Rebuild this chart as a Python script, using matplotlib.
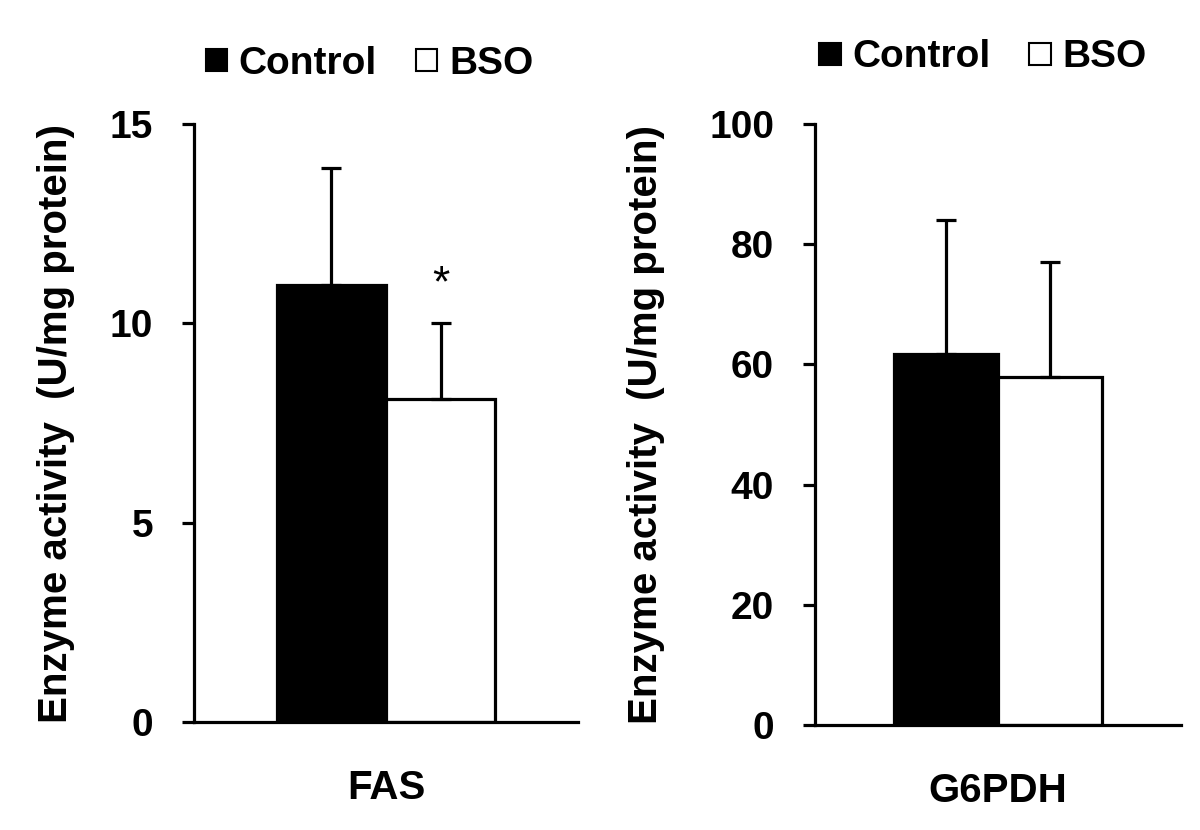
import matplotlib.pyplot as plt
from matplotlib.patches import Patch

plt.rcParams['font.family'] = ['Liberation Sans', 'DejaVu Sans']
plt.rcParams['font.weight'] = 'bold'

enzymes = ['FAS', 'G6PDH']
control_mean = [10.95, 61.7]
control_sd = [2.95, 22.3]
bso_mean = [8.1, 57.9]
bso_sd = [1.9, 19.1]
bso_sig = ['*', '']
y_max = [15, 100]
y_step = [5, 20]

fig = plt.figure(figsize=(12, 8.3), dpi=100)

# axes boxes in figure fractions (left, bottom, width, height)
boxes = [[0.1617, 0.1301, 0.32, 0.7205],
         [0.6792, 0.1265, 0.305, 0.724]]
legend_pos = [(-0.01, 1.045), (-0.031, 1.055)]
ylabel_x = [-0.31, -0.41]

w = 0.285
lw = 2.3
for i in range(2):
    ax = fig.add_axes(boxes[i])
    ax.bar(-w/2, control_mean[i], w, color='black', edgecolor='black', lw=lw)
    ax.bar(w/2, bso_mean[i], w, color='white', edgecolor='black', lw=lw)
    # one-sided error bars
    ax.errorbar(-w/2, control_mean[i], yerr=[[0], [control_sd[i]]], fmt='none',
                ecolor='black', elinewidth=lw, capsize=7, capthick=lw)
    ax.errorbar(w/2, bso_mean[i], yerr=[[0], [bso_sd[i]]], fmt='none',
                ecolor='black', elinewidth=lw, capsize=7, capthick=lw)
    if bso_sig[i]:
        ax.annotate(bso_sig[i], (w/2, bso_mean[i] + bso_sd[i]), xytext=(0, 13),
                    textcoords='offset points', ha='center', va='bottom',
                    fontsize=32, fontweight='normal')

    ax.set_xlim(-0.5, 0.5)
    ax.set_ylim(0, y_max[i])
    ax.set_yticks(range(0, y_max[i] + 1, y_step[i]))
    ax.set_xticks([0])
    ax.set_xticklabels([enzymes[i]])
    ax.tick_params(axis='x', length=0, pad=34, labelsize=29)
    ax.tick_params(axis='y', direction='out', length=8.5, width=lw, pad=21, labelsize=28)
    for s in ['top', 'right']:
        ax.spines[s].set_visible(False)
    for s in ['left', 'bottom']:
        ax.spines[s].set_linewidth(lw)
    ax.set_ylabel('Enzyme activity  (U/mg protein)', fontsize=29, fontweight='bold')
    ax.yaxis.set_label_coords(ylabel_x[i], 0.5)

    handles = [Patch(facecolor='black', edgecolor='black', lw=1.5),
               Patch(facecolor='white', edgecolor='black', lw=1.5)]
    ax.legend(handles, ['Control', 'BSO'], ncol=2, frameon=False, fontsize=28,
              loc='lower left', bbox_to_anchor=legend_pos[i],
              handlelength=0.55, handleheight=0.5, handletextpad=0.3,
              columnspacing=1.0, borderaxespad=0)

fig.savefig('out.png', dpi=100)
